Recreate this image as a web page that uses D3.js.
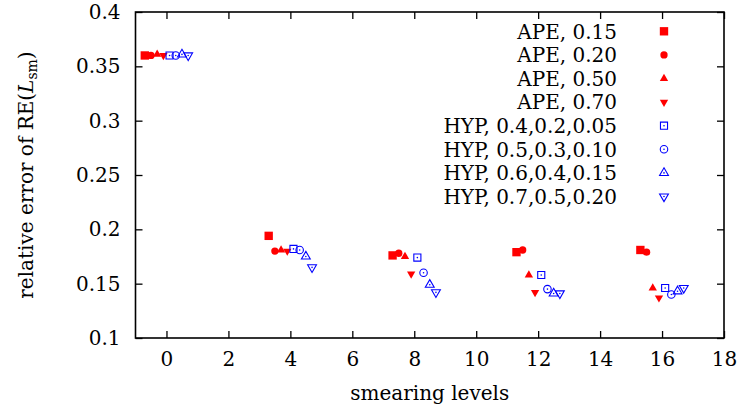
<!DOCTYPE html>
<html>
<head>
<meta charset="utf-8">
<script src="https://cdn.jsdelivr.net/npm/d3@7"></script>
<style>
  html, body { margin: 0; padding: 0; background: #fff; }
  svg { display: block; }
  text { font-family: "DejaVu Serif", serif; fill: #000; }
</style>
</head>
<body>
<svg id="chart" width="741" height="415"></svg>
<script>
// ---- data ----
const levels = [0, 4, 8, 12, 16];
const seriesNames = [
  "APE, 0.15", "APE, 0.20", "APE, 0.50", "APE, 0.70",
  "HYP, 0.4,0.2,0.05", "HYP, 0.5,0.3,0.10", "HYP, 0.6,0.4,0.15", "HYP, 0.7,0.5,0.20"
];
const xOffsets = [-0.7, -0.5, -0.3, -0.1, 0.1, 0.3, 0.5, 0.7];
const ape015 = [0.360, 0.194, 0.176, 0.179, 0.181];
const ape020 = [0.360, 0.180, 0.178, 0.181, 0.179];
const ape050 = [0.361, 0.181, 0.175, 0.158, 0.146];
const ape070 = [0.360, 0.180, 0.159, 0.142, 0.137];
const hyp1 = [0.360, 0.182, 0.174, 0.158, 0.146];
const hyp2 = [0.360, 0.181, 0.160, 0.145, 0.140];
const hyp3 = [0.361, 0.175, 0.149, 0.141, 0.143];
const hyp4 = [0.360, 0.165, 0.142, 0.141, 0.146];
const seriesValues = [ape015, ape020, ape050, ape070, hyp1, hyp2, hyp3, hyp4];
const xTicks = [0, 2, 4, 6, 8, 10, 12, 14, 16, 18];
const yTicks = [0.1, 0.15, 0.2, 0.25, 0.3, 0.35, 0.4];

// ---- styles ----
const shapes = ["square", "circle", "up", "down", "square", "circle", "up", "down"];
const filled = [true, true, true, true, false, false, false, false];
const colors = ["#ff0000", "#ff0000", "#ff0000", "#ff0000", "#0000ff", "#0000ff", "#0000ff", "#0000ff"];

const svg = d3.select("#chart");
const L = 135.5, R = 724, T = 12, B = 338;
const x = d3.scaleLinear().domain([-1, 18]).range([L, R]);
const y = d3.scaleLinear().domain([0.1, 0.4]).range([B, T]);
const FS = 20;

function styleAxis(g) {
  g.select(".domain").remove();
  g.selectAll(".tick line").attr("stroke", "#000").attr("stroke-width", 1.3);
  g.selectAll(".tick text").style("font-family", '"DejaVu Serif", serif').style("font-size", FS + "px").attr("fill", "#000");
}

svg.append("g").attr("transform", `translate(0,${B})`)
  .call(d3.axisBottom(x).tickValues(xTicks).tickSizeInner(-7).tickSizeOuter(0).tickPadding(14).tickFormat(d3.format("d")))
  .call(styleAxis);
svg.append("g").attr("transform", `translate(0,${T})`)
  .call(d3.axisTop(x).tickValues(xTicks).tickSizeInner(-7).tickSizeOuter(0).tickFormat(""))
  .call(styleAxis);
svg.append("g").attr("transform", `translate(${L},0)`)
  .call(d3.axisLeft(y).tickValues(yTicks).tickSizeInner(-7).tickSizeOuter(0).tickPadding(15).tickFormat(d => d3.format("")(+d.toFixed(2))))
  .call(styleAxis);
svg.append("g").attr("transform", `translate(${R},0)`)
  .call(d3.axisRight(y).tickValues(yTicks).tickSizeInner(-7).tickSizeOuter(0).tickFormat(""))
  .call(styleAxis);

svg.append("rect").attr("x", L).attr("y", T).attr("width", R - L).attr("height", B - T)
  .attr("fill", "none").attr("stroke", "#000").attr("stroke-width", 1.6);

// ---- markers ----
function drawMarker(g, shape, isFilled, color, cx, cy) {
  const gen = d3.symbol();
  let path, rot = 0;
  if (shape === "square") path = gen.type(d3.symbolSquare).size(isFilled ? 70 : 50)();
  else if (shape === "circle") path = gen.type(d3.symbolCircle).size(isFilled ? 42 : 44)();
  else { path = gen.type(d3.symbolTriangle).size(isFilled ? 30 : 34)(); if (shape === "down") rot = 180; }
  g.append("path").attr("d", path)
    .attr("transform", `translate(${cx},${cy}) rotate(${rot})`)
    .attr("fill", isFilled ? color : "none")
    .attr("stroke", isFilled ? "none" : color)
    .attr("stroke-width", isFilled ? 0 : 1.1);
  if (!isFilled) {
    g.append("circle").attr("cx", cx).attr("cy", cy).attr("r", 0.8).attr("fill", color);
  }
}

const marks = svg.append("g");
seriesValues.forEach((vals, i) => {
  vals.forEach((v, j) => {
    drawMarker(marks, shapes[i], filled[i], colors[i], x(levels[j] + xOffsets[i]), y(v));
  });
});

// ---- legend ----
const leg = svg.append("g");
seriesNames.forEach((name, i) => {
  const ly = 31.3 + 23.6 * i;
  leg.append("text").attr("x", 617).attr("y", ly).attr("dy", "0.36em")
    .attr("text-anchor", "end").style("font-size", FS + "px").text(name);
  drawMarker(leg, shapes[i], filled[i], colors[i], 664, ly);
});

// ---- axis labels ----
svg.append("text").attr("x", (L + R) / 2).attr("y", 400).attr("text-anchor", "middle")
  .style("font-size", FS + "px").text("smearing levels");

const yl = svg.append("text").attr("transform", `translate(33,${(T + B) / 2}) rotate(-90)`)
  .attr("text-anchor", "middle").style("font-size", FS + "px");
yl.append("tspan").text("relative error of RE(");
yl.append("tspan").style("font-style", "italic").text("L");
yl.append("tspan").attr("dy", 4).style("font-size", "14px").text("sm");
yl.append("tspan").attr("dy", -4).text(")");
</script>
</body>
</html>
